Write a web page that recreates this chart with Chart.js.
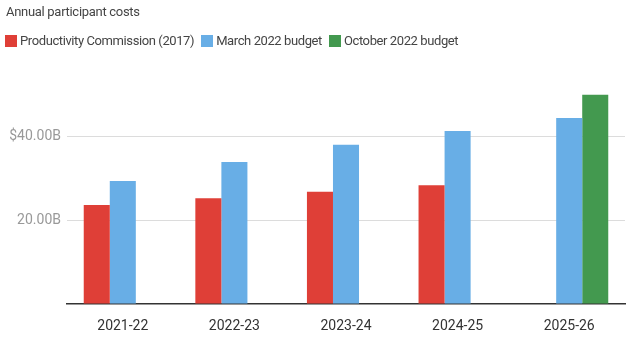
<!DOCTYPE html>
<html>
<head>
<meta charset="utf-8">
<script src="https://cdn.jsdelivr.net/npm/chart.js@4"></script>
<style>
  html, body { margin: 0; padding: 0; background: #fff; }
  #wrap { width: 629px; height: 345px; position: relative; font-family: Roboto, "Noto Sans", sans-serif; }
  #chart { position: absolute; left: 0; top: 0; }
  .title { position: absolute; left: 6px; top: 4px; font-size: 13px; letter-spacing: -0.3px; color: #444; line-height: 16px; }
  .legend { position: absolute; left: 5px; top: 33px; display: flex; font-size: 13px; letter-spacing: -0.4px; color: #444; line-height: 16px; }
  .legend span.item { display: flex; align-items: center; margin-right: 7px; }
  .legend i { display: inline-block; width: 12px; height: 12px; margin-right: 3px; }
</style>
</head>
<body>
<div id="wrap">
  <canvas id="chart" width="629" height="345"></canvas>
  <div class="title">Annual participant costs</div>
  <div class="legend" id="legend"></div>
</div>
<script>
const categories = ['2021-22', '2022-23', '2023-24', '2024-25', '2025-26'];
const productivityCommission = [23.6, 25.2, 26.7, 28.3, null];
const march2022 = [29.3, 33.8, 37.9, 41.2, 44.3];
const october2022 = [null, null, null, null, 49.8];
const seriesNames = ['Productivity Commission (2017)', 'March 2022 budget', 'October 2022 budget'];
const seriesColors = ['#df3f37', '#68aee6', '#43994f'];

const FONT = 'Roboto, "Noto Sans", sans-serif';

// легенда в html, чтобы точнее встала
const legendEl = document.getElementById('legend');
seriesNames.forEach((name, i) => {
  const item = document.createElement('span');
  item.className = 'item';
  item.innerHTML = `<i style="background:${seriesColors[i]}"></i>${name}`;
  legendEl.appendChild(item);
});

new Chart(document.getElementById('chart'), {
  type: 'bar',
  data: {
    labels: categories,
    datasets: [
      { label: seriesNames[0], data: productivityCommission, backgroundColor: seriesColors[0] },
      { label: seriesNames[1], data: march2022, backgroundColor: seriesColors[1] },
      { label: seriesNames[2], data: october2022, backgroundColor: seriesColors[2] },
    ],
  },
  options: {
    responsive: false,
    animation: false,
    barPercentage: 1,
    categoryPercentage: 0.7,
    layout: { padding: { left: 0, right: 4, top: 52, bottom: 0 } },
    plugins: {
      legend: { display: false },
      tooltip: { enabled: false },
    },
    scales: {
      x: {
        grid: { display: false },
        border: { color: '#333', width: 1.5 },
        ticks: { color: '#333', font: { family: FONT, size: 14 }, padding: 6 },
        afterFit(scale) { scale.height = 41; },
      },
      y: {
        min: 0,
        max: 60,
        border: { display: false },
        grid: {
          drawTicks: false,
          color: ctx => (ctx.tick && (ctx.tick.value === 0 || ctx.tick.value === 60)) ? 'rgba(0,0,0,0)' : '#dcdcdc',
        },
        ticks: {
          stepSize: 20,
          padding: 6,
          color: '#999',
          font: { family: FONT, size: 14 },
          callback(value, index, ticks) {
            if (value === 0 || value === 60) return '';
            const prefix = index === ticks.length - 2 ? '$' : '';
            return prefix + value.toFixed(2) + 'B';
          },
        },
        afterFit(scale) { scale.width = 67; },
      },
    },
  },
});
</script>
</body>
</html>
